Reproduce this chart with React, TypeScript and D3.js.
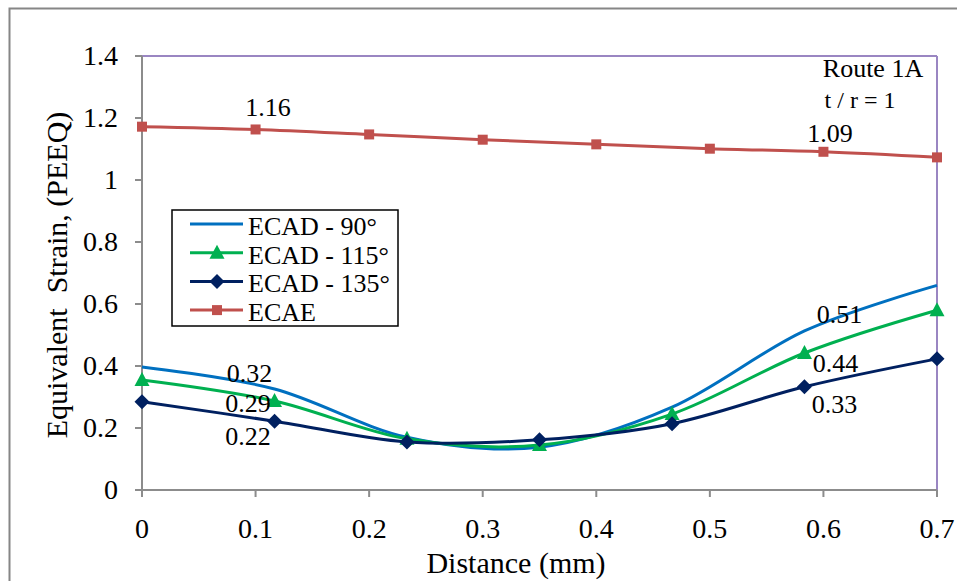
import React from "react";
import * as d3 from "d3";

const xTicks = [0, 0.1, 0.2, 0.3, 0.4, 0.5, 0.6, 0.7];
const yTicks = [0, 0.2, 0.4, 0.6, 0.8, 1, 1.2, 1.4];

const ecadX = [0, 0.1167, 0.2333, 0.35, 0.4667, 0.5833, 0.7];
const ecad90 = [0.397, 0.326, 0.17, 0.138, 0.267, 0.513, 0.66];
const ecad115 = [0.355, 0.287, 0.165, 0.145, 0.245, 0.442, 0.58];
const ecad135 = [0.285, 0.222, 0.155, 0.162, 0.214, 0.333, 0.423];

const ecaeX = [0, 0.1, 0.2, 0.3, 0.4, 0.5, 0.6, 0.7];
const ecae = [1.172, 1.163, 1.147, 1.13, 1.115, 1.101, 1.091, 1.073];

const legendLabels = ["ECAD - 90°", "ECAD - 115°", "ECAD - 135°", "ECAE"];
const colors = ["#0070C0", "#00B050", "#002060", "#C0504D"];

const dataLabels = [
  { x: 0.1, y: 1.163, t: "1.16", dx: 12.5, dy: -13.5 },
  { x: 0.6, y: 1.091, t: "1.09", dx: 6.5, dy: -10 },
  { x: 0.1167, y: 0.326, t: "0.32", dx: -25, dy: -7 },
  { x: 0.1167, y: 0.287, t: "0.29", dx: -26.5, dy: 11 },
  { x: 0.1167, y: 0.222, t: "0.22", dx: -26.5, dy: 24 },
  { x: 0.5833, y: 0.513, t: "0.51", dx: 35, dy: -8 },
  { x: 0.5833, y: 0.442, t: "0.44", dx: 31, dy: 19 },
  { x: 0.5833, y: 0.333, t: "0.33", dx: 30, dy: 26 },
];

const FONT = "'Liberation Serif', 'Times New Roman', serif";

export default function App() {
  const left = 142, right = 937, top = 56, bottom = 490;
  const x = d3.scaleLinear().domain([0, 0.7]).range([left, right]);
  const y = d3.scaleLinear().domain([0, 1.4]).range([bottom, top]);
  const line = d3
    .line<[number, number]>()
    .x((d) => x(d[0]))
    .y((d) => y(d[1]))
    .curve(d3.curveCardinal.tension(0));

  const series = [
    { xs: ecadX, ys: ecad90, color: colors[0], marker: "none" },
    { xs: ecadX, ys: ecad115, color: colors[1], marker: "tri" },
    { xs: ecadX, ys: ecad135, color: colors[2], marker: "dia" },
    { xs: ecaeX, ys: ecae, color: colors[3], marker: "sq" },
  ];

  const marker = (type: string, cx: number, cy: number, color: string, key: string) => {
    if (type === "tri")
      return <path key={key} d={`M${cx},${cy - 8} L${cx + 7.5},${cy + 6} L${cx - 7.5},${cy + 6} Z`} fill={color} />;
    if (type === "dia")
      return <path key={key} d={`M${cx},${cy - 7.5} L${cx + 7.5},${cy} L${cx},${cy + 7.5} L${cx - 7.5},${cy} Z`} fill={color} />;
    if (type === "sq")
      return <rect key={key} x={cx - 5} y={cy - 5} width={10} height={10} fill={color} />;
    return null;
  };

  const ts = (size: number) => ({ fontFamily: FONT, fontSize: size, fill: "#000", whiteSpace: "pre" as const });

  return (
    <svg width={957} height={581} style={{ position: "absolute", left: 0, top: 0 }}>
      <rect x={0} y={0} width={957} height={581} fill="#fff" />
      <rect x={9.5} y={8.5} width={990} height={700} fill="none" stroke="#868686" strokeWidth={2} />
      {/* plot frame */}
      <line x1={left} x2={right} y1={top} y2={top} stroke="#9A86C2" strokeWidth={2} />
      <line x1={right} x2={right} y1={top} y2={bottom} stroke="#9A86C2" strokeWidth={2} />
      <line x1={left} x2={right} y1={bottom} y2={bottom} stroke="#8C8C8C" strokeWidth={2} />
      <line x1={left} x2={left} y1={top} y2={bottom} stroke="#8C8C8C" strokeWidth={2} />
      {/* ticks */}
      {yTicks.map((t) => (
        <g key={"y" + t}>
          <line x1={left - 7} x2={left} y1={y(t)} y2={y(t)} stroke="#8C8C8C" strokeWidth={2} />
          <text x={118} y={y(t) + 9} textAnchor="end" style={ts(28)}>
            {t}
          </text>
        </g>
      ))}
      {xTicks.map((t) => (
        <g key={"x" + t}>
          <line x1={x(t)} x2={x(t)} y1={bottom} y2={bottom + 7} stroke="#8C8C8C" strokeWidth={2} />
          <text x={x(t)} y={538} textAnchor="middle" style={ts(28)}>
            {t}
          </text>
        </g>
      ))}
      <text x={516} y={573} textAnchor="middle" style={ts(30)}>
        Distance (mm)
      </text>
      <text transform={`translate(67,275) rotate(-90)`} textAnchor="middle" style={ts(30)}>
        {"Equivalent  Strain, (PEEQ)"}
      </text>
      {/* series */}
      {series.map((s, i) => {
        const pts = s.xs.map((v, j) => [v, s.ys[j]] as [number, number]);
        return (
          <g key={"s" + i}>
            <path d={line(pts) || ""} fill="none" stroke={s.color} strokeWidth={3} />
            {pts.map((p, j) => marker(s.marker, x(p[0]), y(p[1]), s.color, `m${i}-${j}`))}
          </g>
        );
      })}
      {/* data labels */}
      {dataLabels.map((d, i) => (
        <text key={"dl" + i} x={x(d.x) + d.dx} y={y(d.y) + d.dy} textAnchor="middle" style={ts(26)}>
          {d.t}
        </text>
      ))}
      {/* annotation */}
      <text x={873} y={77} textAnchor="middle" style={ts(26)}>
        Route 1A
      </text>
      <text x={860} y={108} textAnchor="middle" style={ts(24)}>
        t / r = 1
      </text>
      {/* legend */}
      <rect x={172} y={210} width={226} height={116} fill="#fff" stroke="#000" strokeWidth={1.5} />
      {legendLabels.map((l, i) => {
        const cy = 224 + i * 28.7;
        return (
          <g key={"lg" + i}>
            <line x1={190} x2={243} y1={cy} y2={cy} stroke={colors[i]} strokeWidth={3} />
            {marker(series[i].marker, 217, cy, colors[i], "lm" + i)}
            <text x={248} y={cy + 11} style={ts(26)}>
              {l}
            </text>
          </g>
        );
      })}
    </svg>
  );
}
